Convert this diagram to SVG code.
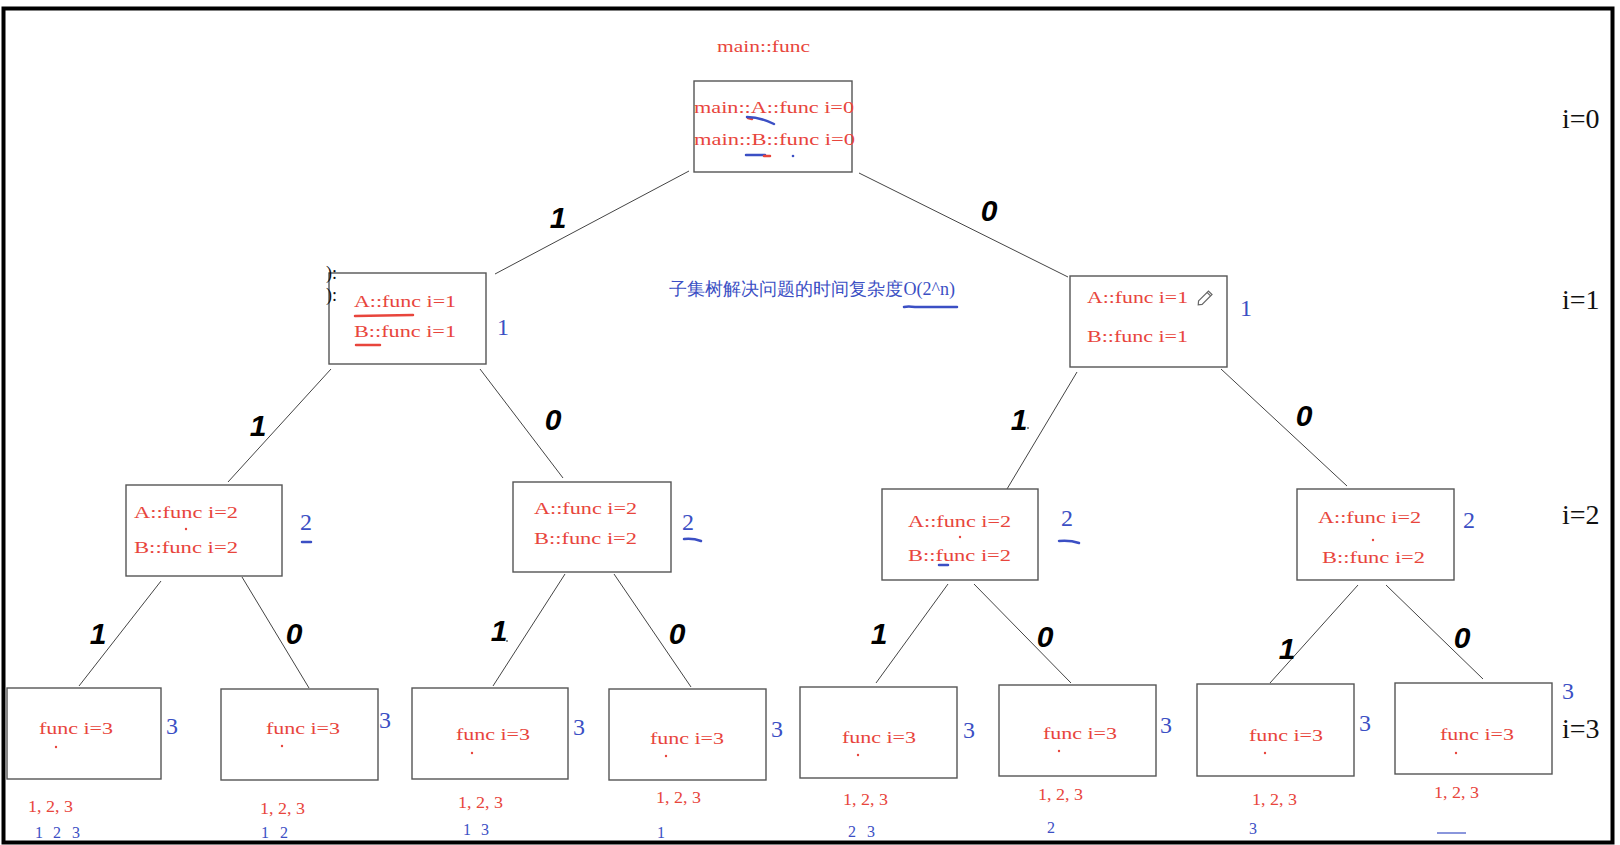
<svg xmlns="http://www.w3.org/2000/svg" width="1620" height="845" viewBox="0 0 1620 845">
<style>
.bx{fill:#fff;stroke:#555;stroke-width:1.4}
.t{font-family:"Liberation Serif",serif;font-size:16px;fill:#e8453c}
.b{font-family:"Liberation Serif",serif;fill:#3b4fc4}
.lv{font-family:"Liberation Serif",serif;font-size:28px;fill:#111}
.e{font-family:"Liberation Sans",Arial,sans-serif;font-size:30px;font-weight:bold;font-style:italic;fill:#000}
.cn line{stroke:#444;stroke-width:1}
.ub{stroke:#3b4fc4;stroke-width:2.5;fill:none;stroke-linecap:round}
.ur{stroke:#e8453c;stroke-width:2.5;fill:none;stroke-linecap:round}
.dt{fill:#e8453c}
</style>
<rect x="0" y="0" width="1620" height="845" fill="#fff"/>
<rect x="3.5" y="8.5" width="1609" height="834" fill="none" stroke="#000" stroke-width="4"/>

<g id="connectors" class="cn">
<line x1="689" y1="171" x2="495" y2="274"/>
<line x1="859" y1="173" x2="1068" y2="277"/>
<line x1="331" y1="369" x2="228" y2="482"/>
<line x1="480" y1="369" x2="563" y2="478"/>
<line x1="1077" y1="372" x2="1007" y2="489"/>
<line x1="1221" y1="369" x2="1347" y2="486"/>
<line x1="161" y1="581" x2="79" y2="686"/>
<line x1="242" y1="577" x2="309" y2="688"/>
<line x1="565" y1="574" x2="493" y2="686"/>
<line x1="614" y1="574" x2="691" y2="687"/>
<line x1="948" y1="584" x2="876" y2="683"/>
<line x1="974" y1="584" x2="1071" y2="683"/>
<line x1="1358" y1="585" x2="1270" y2="683"/>
<line x1="1386" y1="585" x2="1483" y2="679"/>
</g>

<g id="edge-labels">
<text class="e" x="558" y="228" text-anchor="middle">1</text>
<text class="e" x="989" y="221" text-anchor="middle">0</text>
<text class="e" x="258" y="436" text-anchor="middle">1</text>
<text class="e" x="553" y="430" text-anchor="middle">0</text>
<text class="e" x="1019" y="430" text-anchor="middle">1</text>
<circle cx="1028" cy="428" r="0.8" fill="#000"/>
<text class="e" x="1304" y="426" text-anchor="middle">0</text>
<text class="e" x="98" y="644" text-anchor="middle">1</text>
<text class="e" x="294" y="644" text-anchor="middle">0</text>
<text class="e" x="499" y="641" text-anchor="middle">1</text>
<circle cx="507" cy="641" r="0.8" fill="#000"/>
<text class="e" x="677" y="644" text-anchor="middle">0</text>
<text class="e" x="879" y="644" text-anchor="middle">1</text>
<text class="e" x="1045" y="647" text-anchor="middle">0</text>
<text class="e" x="1287" y="659" text-anchor="middle">1</text>
<text class="e" x="1462" y="648" text-anchor="middle">0</text>
</g>

<g id="level-labels">
<text class="lv" x="1562" y="128">i=0</text>
<text class="lv" x="1562" y="309">i=1</text>
<text class="lv" x="1562" y="524">i=2</text>
<text class="lv" x="1562" y="738">i=3</text>
</g>

<g id="root">
<text class="t" x="717" y="52" textLength="93" lengthAdjust="spacingAndGlyphs">main::func</text>
<rect class="bx" x="694" y="81" width="158" height="91"/>
<text class="t" x="694" y="113" textLength="160" lengthAdjust="spacingAndGlyphs">main::A::func i=0</text>
<text class="t" x="694" y="145" textLength="161" lengthAdjust="spacingAndGlyphs">main::B::func i=0</text>
<path class="ur" d="M748 118 L752 119"/>
<path class="ub" d="M747 117 Q760 117 774 124"/>
<path class="ub" d="M746 155 L765 155"/>
<path class="ur" d="M764 156 L770 156"/>
<circle cx="793" cy="156" r="1.3" fill="#3b4fc4"/>
</g>

<text id="complexity" class="b" x="669" y="295" font-size="18" font-family="'Liberation Serif','Noto Sans CJK SC',serif" textLength="286" lengthAdjust="spacingAndGlyphs">子集树解决问题的时间复杂度O(2^n)</text>
<path class="ub" d="M904 307 Q908 306 915 307 L957 307"/>

<g id="n1L">
<rect class="bx" x="329" y="273" width="157" height="91"/>
<text x="326" y="279" font-family="'Liberation Serif',serif" font-size="18" fill="#111">):</text>
<text x="326" y="301" font-family="'Liberation Serif',serif" font-size="18" fill="#111">):</text>
<text class="t" x="354" y="307" textLength="102" lengthAdjust="spacingAndGlyphs">A::func i=1</text>
<text class="t" x="354" y="337" textLength="102" lengthAdjust="spacingAndGlyphs">B::func i=1</text>
<path class="ur" d="M355 316 L413 315"/>
<path class="ur" d="M356 345 L380 345"/>
<text class="b" x="497" y="335" font-size="24">1</text>
</g>

<g id="n1R">
<rect class="bx" x="1070" y="276" width="157" height="91"/>
<text class="t" x="1087" y="303" textLength="101" lengthAdjust="spacingAndGlyphs">A::func i=1</text>
<text class="t" x="1087" y="342" textLength="101" lengthAdjust="spacingAndGlyphs">B::func i=1</text>
<g transform="translate(1206 297) rotate(-45)" fill="none" stroke="#666" stroke-width="1.2">
<path d="M-8 -2.5 L6 -2.5 L6 2.5 L-8 2.5 L-11 0 Z"/>
<line x1="4" y1="-2.5" x2="4" y2="2.5"/>
</g>
<text class="b" x="1240" y="316" font-size="24">1</text>
</g>

<g id="n2a">
<rect class="bx" x="126" y="485" width="156" height="91"/>
<text class="t" x="134" y="518" textLength="104" lengthAdjust="spacingAndGlyphs">A::func i=2</text>
<text class="t" x="134" y="553" textLength="104" lengthAdjust="spacingAndGlyphs">B::func i=2</text>
<circle class="dt" cx="186" cy="529" r="1.2"/>
<text class="b" x="300" y="530" font-size="24">2</text>
<path class="ub" d="M302 542 L311 542"/>
</g>

<g id="n2b">
<rect class="bx" x="513" y="482" width="158" height="90"/>
<text class="t" x="534" y="514" textLength="103" lengthAdjust="spacingAndGlyphs">A::func i=2</text>
<text class="t" x="534" y="544" textLength="103" lengthAdjust="spacingAndGlyphs">B::func i=2</text>
<text class="b" x="682" y="530" font-size="24">2</text>
<path class="ub" d="M684 539 Q693 538 701 541"/>
</g>

<g id="n2c">
<rect class="bx" x="882" y="489" width="156" height="91"/>
<text class="t" x="908" y="527" textLength="103" lengthAdjust="spacingAndGlyphs">A::func i=2</text>
<text class="t" x="908" y="561" textLength="103" lengthAdjust="spacingAndGlyphs">B::func i=2</text>
<circle class="dt" cx="960" cy="537" r="1.2"/>
<path class="ub" d="M939 565 L948 565"/>
<text class="b" x="1061" y="526" font-size="24">2</text>
<path class="ub" d="M1059 541 Q1070 540 1079 543"/>
</g>

<g id="n2d">
<rect class="bx" x="1297" y="489" width="157" height="91"/>
<text class="t" x="1318" y="523" textLength="103" lengthAdjust="spacingAndGlyphs">A::func i=2</text>
<text class="t" x="1322" y="563" textLength="103" lengthAdjust="spacingAndGlyphs">B::func i=2</text>
<circle class="dt" cx="1373" cy="540" r="1.2"/>
<text class="b" x="1463" y="528" font-size="24">2</text>
</g>

<g id="n3a">
<rect class="bx" x="7" y="688" width="154" height="91"/>
<text class="t" x="39" y="734" textLength="74" lengthAdjust="spacingAndGlyphs">func i=3</text>
<circle class="dt" cx="56" cy="747" r="1.2"/>
<text class="b" x="166" y="734" font-size="24">3</text>
<text class="t" x="28" y="812" textLength="45" lengthAdjust="spacingAndGlyphs">1, 2, 3</text>
<text class="b" y="838" font-size="16"><tspan x="35">1</tspan><tspan x="53">2</tspan><tspan x="72">3</tspan></text>
</g>

<g id="n3b">
<rect class="bx" x="221" y="689" width="157" height="91"/>
<text class="t" x="266" y="734" textLength="74" lengthAdjust="spacingAndGlyphs">func i=3</text>
<circle class="dt" cx="282" cy="746" r="1.2"/>
<text class="b" x="379" y="728" font-size="24">3</text>
<text class="t" x="260" y="814" textLength="45" lengthAdjust="spacingAndGlyphs">1, 2, 3</text>
<text class="b" y="838" font-size="16"><tspan x="261">1</tspan><tspan x="280">2</tspan></text>
</g>

<g id="n3c">
<rect class="bx" x="412" y="688" width="156" height="91"/>
<text class="t" x="456" y="740" textLength="74" lengthAdjust="spacingAndGlyphs">func i=3</text>
<circle class="dt" cx="472" cy="753" r="1.2"/>
<text class="b" x="573" y="735" font-size="24">3</text>
<text class="t" x="458" y="808" textLength="45" lengthAdjust="spacingAndGlyphs">1, 2, 3</text>
<text class="b" y="835" font-size="16"><tspan x="463">1</tspan><tspan x="481">3</tspan></text>
</g>

<g id="n3d">
<rect class="bx" x="609" y="689" width="157" height="91"/>
<text class="t" x="650" y="744" textLength="74" lengthAdjust="spacingAndGlyphs">func i=3</text>
<circle class="dt" cx="666" cy="756" r="1.2"/>
<text class="b" x="771" y="737" font-size="24">3</text>
<text class="t" x="656" y="803" textLength="45" lengthAdjust="spacingAndGlyphs">1, 2, 3</text>
<text class="b" x="657" y="838" font-size="16">1</text>
</g>

<g id="n3e">
<rect class="bx" x="800" y="687" width="157" height="91"/>
<text class="t" x="842" y="743" textLength="74" lengthAdjust="spacingAndGlyphs">func i=3</text>
<circle class="dt" cx="858" cy="755" r="1.2"/>
<text class="b" x="963" y="738" font-size="24">3</text>
<text class="t" x="843" y="805" textLength="45" lengthAdjust="spacingAndGlyphs">1, 2, 3</text>
<text class="b" y="837" font-size="16"><tspan x="848">2</tspan><tspan x="867">3</tspan></text>
</g>

<g id="n3f">
<rect class="bx" x="999" y="685" width="157" height="91"/>
<text class="t" x="1043" y="739" textLength="74" lengthAdjust="spacingAndGlyphs">func i=3</text>
<circle class="dt" cx="1059" cy="751" r="1.2"/>
<text class="b" x="1160" y="733" font-size="24">3</text>
<text class="t" x="1038" y="800" textLength="45" lengthAdjust="spacingAndGlyphs">1, 2, 3</text>
<text class="b" x="1047" y="833" font-size="16">2</text>
</g>

<g id="n3g">
<rect class="bx" x="1197" y="684" width="157" height="92"/>
<text class="t" x="1249" y="741" textLength="74" lengthAdjust="spacingAndGlyphs">func i=3</text>
<circle class="dt" cx="1265" cy="753" r="1.2"/>
<text class="b" x="1359" y="731" font-size="24">3</text>
<text class="t" x="1252" y="805" textLength="45" lengthAdjust="spacingAndGlyphs">1, 2, 3</text>
<text class="b" x="1249" y="834" font-size="16">3</text>
</g>

<g id="n3h">
<rect class="bx" x="1395" y="683" width="157" height="91"/>
<text class="t" x="1440" y="740" textLength="74" lengthAdjust="spacingAndGlyphs">func i=3</text>
<circle class="dt" cx="1456" cy="753" r="1.2"/>
<text class="b" x="1562" y="699" font-size="24">3</text>
<text class="t" x="1434" y="798" textLength="45" lengthAdjust="spacingAndGlyphs">1, 2, 3</text>
<line x1="1437" y1="833" x2="1466" y2="833" stroke="#3b4fc4" stroke-width="1.2"/>
</g>
</svg>
